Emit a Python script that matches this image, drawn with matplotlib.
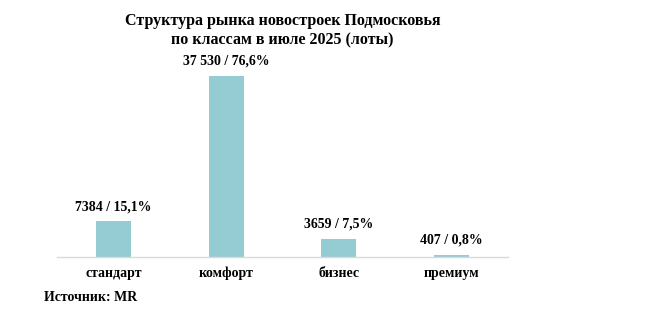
import matplotlib.pyplot as plt

# data
categories = ['стандарт', 'комфорт', 'бизнес', 'премиум']
lots = [7384, 37530, 3659, 407]
labels = ['7384 / 15,1%', '37 530 / 76,6%', '3659 / 7,5%', '407 / 0,8%']

plt.rcParams['font.family'] = ['Liberation Serif', 'DejaVu Serif']
plt.rcParams['font.weight'] = 'bold'

fig = plt.figure(figsize=(6.45, 3.23), dpi=100)
ax = fig.add_axes([0.0884, 0.2043, 0.699, 0.61])

x = range(len(categories))
bars = ax.bar(x, lots, width=0.31, color='#95CBD3')

for b, lab in zip(bars, labels):
    ax.annotate(lab, (b.get_x() + b.get_width() / 2, b.get_height()),
                xytext=(0, 6), textcoords='offset points',
                ha='center', va='bottom', fontsize=10, fontweight='bold')

ax.set_xlim(-0.5, 3.5)
ax.set_ylim(0, 40800)
ax.set_xticks(list(x))
ax.set_xticklabels(categories, fontsize=10, fontweight='bold')
ax.tick_params(axis='x', length=0, pad=7)
ax.set_yticks([])
for s in ['top', 'right', 'left']:
    ax.spines[s].set_visible(False)
ax.spines['bottom'].set_color('#D9D9D9')
ax.spines['bottom'].set_linewidth(1)

fig.text(0.438, 0.905, 'Структура рынка новостроек Подмосковья\nпо классам в июле 2025 (лоты)',
         ha='center', va='center', fontsize=11.5, fontweight='bold', linespacing=1.3)
fig.text(0.068, 0.08, 'Источник: MR', ha='left', va='center', fontsize=10, fontweight='bold')

fig.savefig('out.png', dpi=100, facecolor='white')
